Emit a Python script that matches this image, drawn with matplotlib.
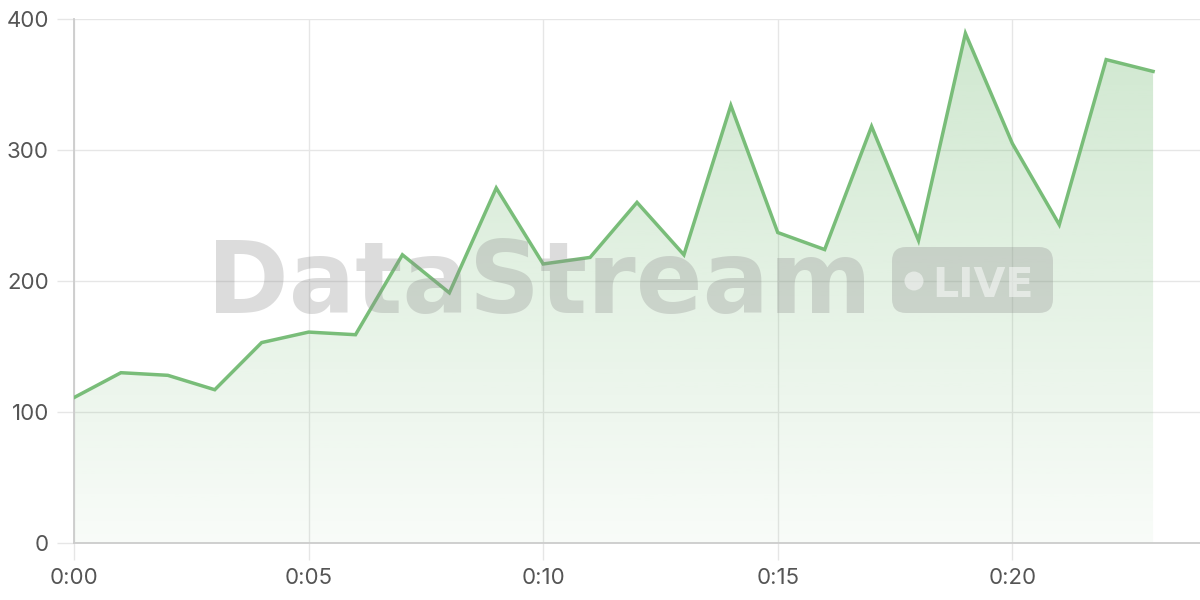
import matplotlib
matplotlib.use("Agg")
import matplotlib.pyplot as plt
import numpy as np
from matplotlib.patches import FancyBboxPatch, Circle
from matplotlib.transforms import IdentityTransform
from matplotlib.colors import to_rgb

minutes = list(range(24))
values = [111, 130, 128, 117, 153, 161, 159, 220, 191, 271, 213, 218, 260, 220,
          334, 237, 224, 318, 231, 389, 305, 243, 369, 360]
xtick_pos = [0, 5, 10, 15, 20]
xtick_labels = ["0:00", "0:05", "0:10", "0:15", "0:20"]
ytick_pos = [0, 100, 200, 300, 400]

plt.rcParams['font.family'] = ['Inter', 'DejaVu Sans']

W, H = 1200, 600
fig = plt.figure(figsize=(12, 6), dpi=100)
ax = fig.add_axes([74 / W, 1 - 543 / H, (1200 - 74) / W, (543 - 19) / H])
ax.set_xlim(0, 24)
ax.set_ylim(0, 400)

line_color = '#79bd79'
rgb = np.array(to_rgb(line_color))

# gradient fill
poly = ax.fill_between(minutes, values, 0, color='none', lw=0)
ny = 256
alpha = np.linspace(0.05, 0.36, ny).reshape(ny, 1)
img = np.zeros((ny, 1, 4))
img[..., :3] = rgb
img[..., 3] = alpha
im = ax.imshow(img, extent=[0, 24, 0, 400], origin='lower', aspect='auto', zorder=1)
path = poly.get_paths()[0]
im.set_clip_path(path, transform=ax.transData)

ax.plot(minutes, values, color=line_color, lw=2.5, zorder=3, solid_joinstyle='miter')

ax.set_xticks(xtick_pos)
ax.set_xticklabels(xtick_labels)
ax.set_yticks(ytick_pos)
ax.grid(True, color='#e6e6e6', lw=1)
ax.set_axisbelow(True)
for s in ['top', 'right']:
    ax.spines[s].set_visible(False)
for s in ['left', 'bottom']:
    ax.spines[s].set_color('#cccccc')
    ax.spines[s].set_linewidth(1.3)
ax.tick_params(axis='both', length=12, width=1, color='#e6e6e6', labelcolor='#555555',
               labelsize=16, pad=6)

# watermark
fig.canvas.draw()
renderer = fig.canvas.get_renderer()
t = fig.text(207 / W, 1 - 313 / H, "DataStream", fontsize=80, fontweight='heavy',
             color='#8c8c8c', alpha=0.3, ha='left', va='baseline', zorder=10,
             family=['DejaVu Sans'])
bb = t.get_window_extent(renderer)
t.set_fontsize(80 * 665 / bb.width)

box = FancyBboxPatch((892, H - 313), 1053 - 892, 313 - 247,
                     boxstyle="round,pad=0,rounding_size=14",
                     transform=IdentityTransform(), facecolor='#8c8c8c', alpha=0.3,
                     edgecolor='none', zorder=10)
fig.patches.append(box)
circ = Circle((914, H - 281), 9.5, transform=IdentityTransform(),
              facecolor='white', alpha=0.5, edgecolor='none', zorder=11)
fig.patches.append(circ)
lt = fig.text(932 / W, 1 - 297 / H, "LIVE", fontsize=34, fontweight='bold',
              color='white', alpha=0.5, ha='left', va='baseline', zorder=11,
              family=['DejaVu Sans'])
lb = lt.get_window_extent(renderer)
lt.set_fontsize(34 * 102 / lb.width)

fig.savefig("out.png", dpi=100)
